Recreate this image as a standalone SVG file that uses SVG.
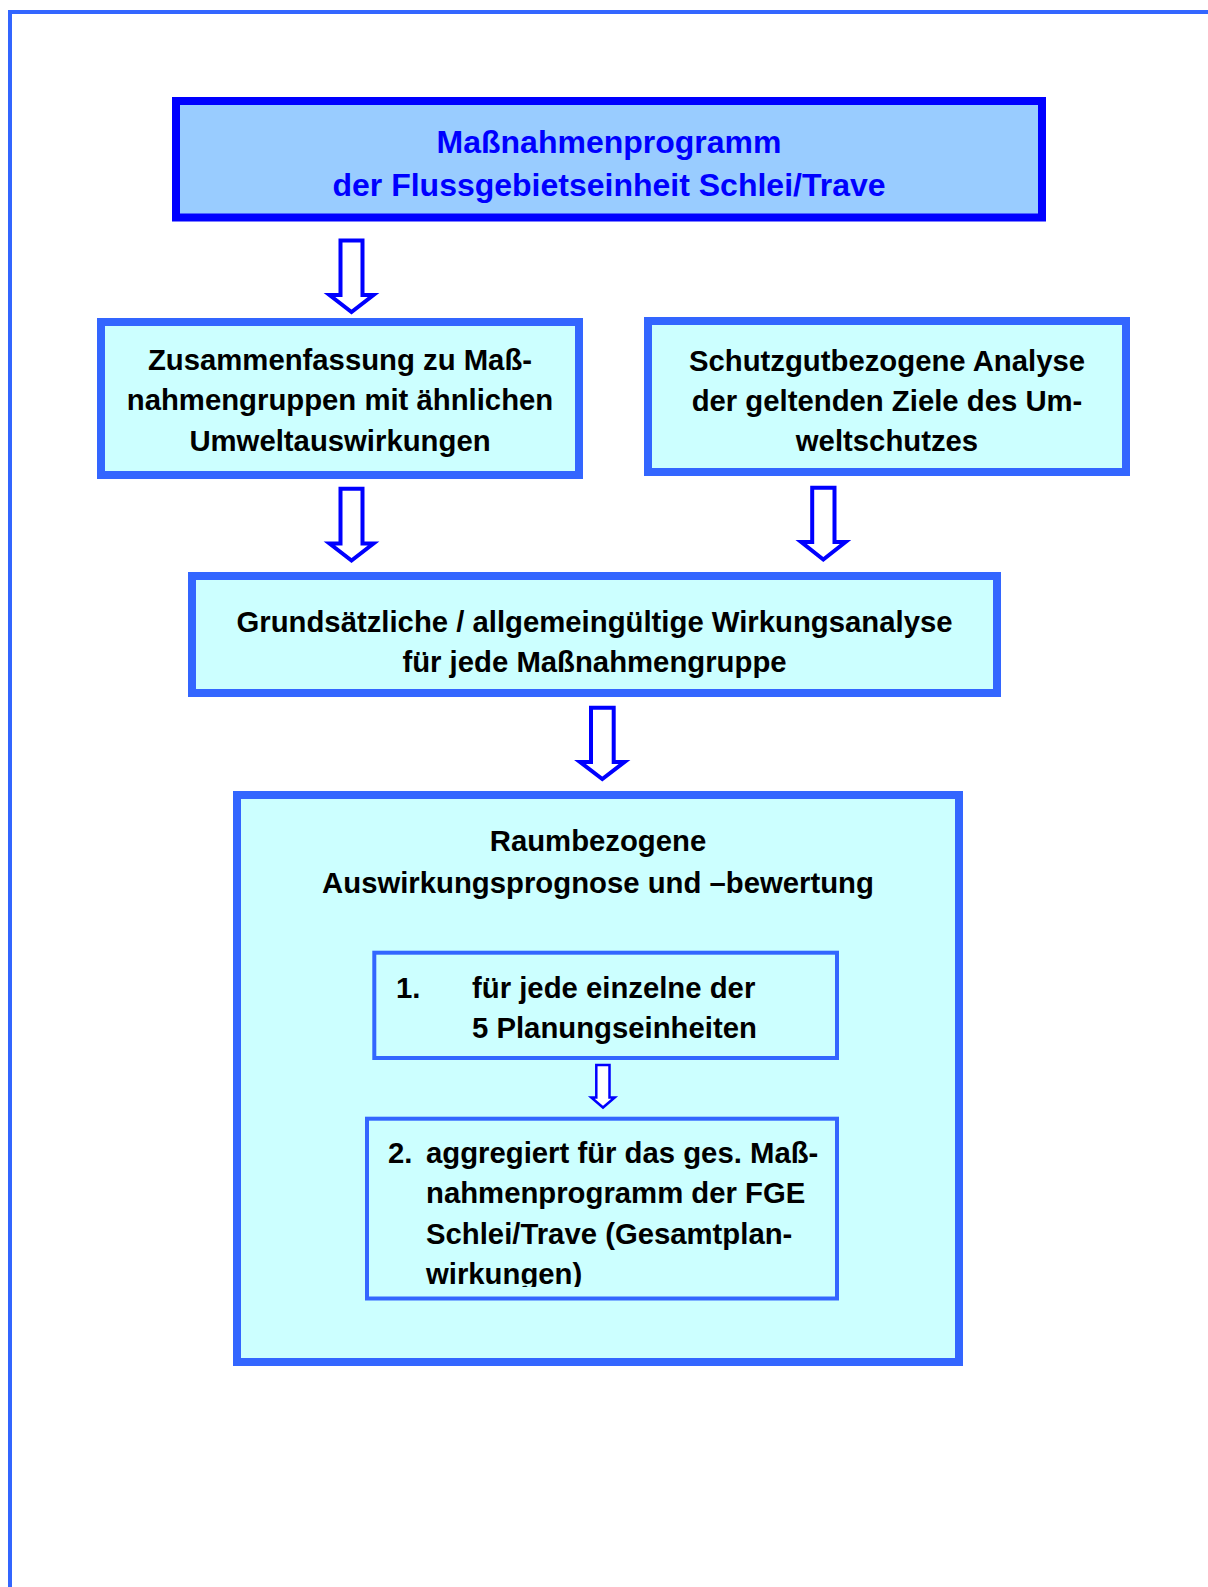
<svg xmlns="http://www.w3.org/2000/svg" width="1208" height="1587" viewBox="0 0 1208 1587">
<style>
  text { font-family: "Liberation Sans", Arial, sans-serif; font-weight: bold; font-size: 29.3px; fill: #000; }
  .hdr { font-size: 32px; fill: #0000FF; }
  .mid { text-anchor: middle; }
  .box { fill: #CCFFFF; stroke: #3366FF; stroke-width: 8; }
  .inner { fill: none; stroke: #3366FF; stroke-width: 4; }
  .arrow { fill: #FFFFFF; stroke: #0000FF; stroke-width: 4; stroke-linejoin: miter; }
  .arrow-s { fill: #FFFFFF; stroke: #0000FF; stroke-width: 2.5; }
</style>
<defs>
  <clipPath id="clipInner2"><rect x="367" y="1119" width="470" height="168"/></clipPath>
</defs>
<rect width="1208" height="1587" fill="#FFFFFF"/>
<path d="M10,1587 V12 H1208" fill="none" stroke="#3366FF" stroke-width="4"/>

<g id="node-massnahmenprogramm">
  <rect x="176" y="101" width="866" height="116.5" fill="#99CCFF" stroke="#0000FF" stroke-width="8"/>
  <text class="hdr mid" x="609" y="153">Maßnahmenprogramm</text>
  <text class="hdr mid" x="609" y="196">der Flussgebietseinheit Schlei/Trave</text>
</g>

<g id="node-zusammenfassung">
  <rect class="box" x="101" y="322" width="478" height="153"/>
  <text class="mid" x="340" y="370">Zusammenfassung zu Maß-</text>
  <text class="mid" x="340" y="410">nahmengruppen mit ähnlichen</text>
  <text class="mid" x="340" y="451">Umweltauswirkungen</text>
</g>

<g id="node-schutzgut">
  <rect class="box" x="648" y="321" width="478" height="151"/>
  <text class="mid" x="887" y="371">Schutzgutbezogene Analyse</text>
  <text class="mid" x="887" y="411">der geltenden Ziele des Um-</text>
  <text class="mid" x="887" y="451">weltschutzes</text>
</g>

<g id="node-wirkungsanalyse">
  <rect class="box" x="192" y="576" width="805" height="117"/>
  <text class="mid" x="594.5" y="632">Grundsätzliche / allgemeingültige Wirkungsanalyse</text>
  <text class="mid" x="594.5" y="672">für jede Maßnahmengruppe</text>
</g>

<g id="node-raumbezogene">
  <rect class="box" x="237" y="795" width="722" height="567"/>
  <text class="mid" x="598" y="851">Raumbezogene</text>
  <text class="mid" x="598" y="893">Auswirkungsprognose und –bewertung</text>
</g>

<g id="node-planungseinheiten">
  <rect class="inner" x="374.3" y="952.7" width="462.7" height="105.3"/>
  <text x="396" y="998">1.</text>
  <text x="472" y="998">für jede einzelne der</text>
  <text x="472" y="1038">5 Planungseinheiten</text>
</g>

<g id="node-aggregiert">
  <rect class="inner" x="367" y="1118.7" width="470" height="179.8"/>
  <g clip-path="url(#clipInner2)">
    <text x="388" y="1163">2.</text>
    <text x="426" y="1163">aggregiert für das ges. Maß-</text>
    <text x="426" y="1203">nahmenprogramm der FGE</text>
    <text x="426" y="1244">Schlei/Trave (Gesamtplan-</text>
    <text x="426" y="1284">wirkungen)</text>
  </g>
</g>

<g id="connectors">
  <polygon class="arrow" points="340.5,240.5 362.5,240.5 362.5,295 373.5,295 351.5,312 329.5,295 340.5,295"/>
  <polygon class="arrow" points="340.5,488.7 362.5,488.7 362.5,543.5 373.5,543.5 351.5,560.5 329.5,543.5 340.5,543.5"/>
  <polygon class="arrow" points="812.2,487.7 834.5,487.7 834.5,542 845.5,542 823.3,559.5 801.2,542 812.2,542"/>
  <polygon class="arrow" points="591,707.7 613.7,707.7 613.7,762 624.5,762 602.3,779 580,762 591,762"/>
  <polygon class="arrow-s" points="596.3,1065 609.5,1065 609.5,1097.5 614.7,1097.5 603,1107.5 591.3,1097.5 596.3,1097.5"/>
</g>
</svg>
